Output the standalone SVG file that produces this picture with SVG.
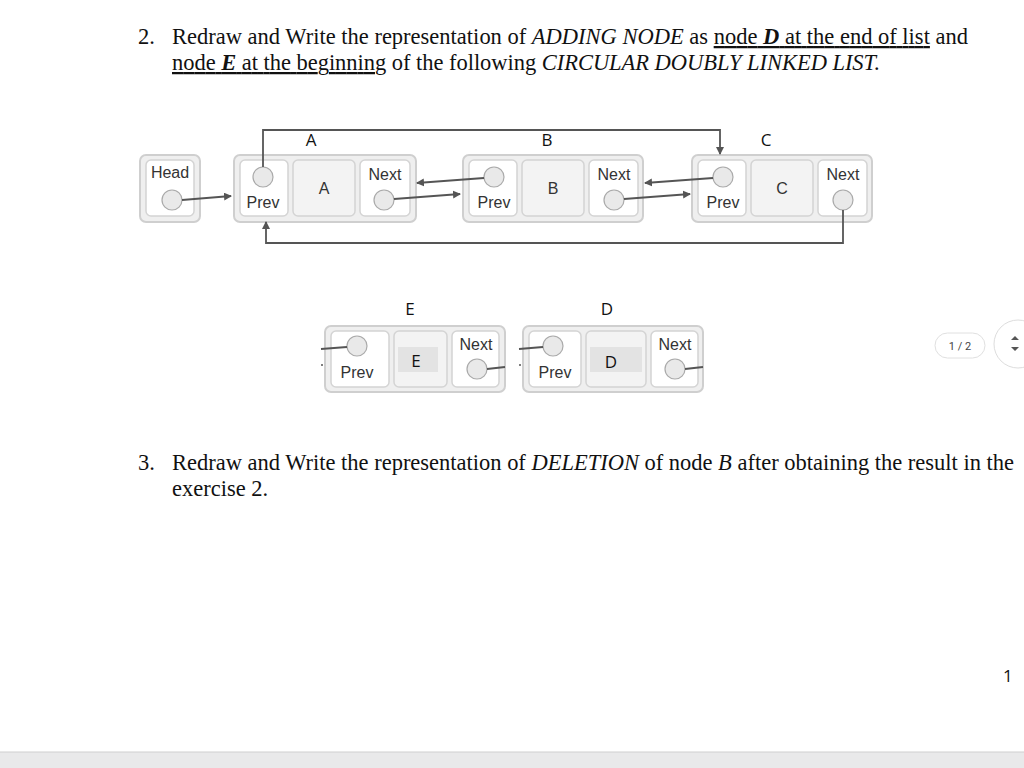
<svg xmlns="http://www.w3.org/2000/svg" width="1024" height="768" viewBox="0 0 1024 768">
<defs>
<marker id="ah" markerWidth="8" markerHeight="8" refX="7" refY="4" orient="auto" markerUnits="userSpaceOnUse"><path d="M0,0 L8,4 L0,8 z" fill="#555"/></marker>
</defs>
<style>
.t{font-family:"Liberation Serif",serif;font-size:22.5px;fill:#111}
.s{font-family:"Liberation Sans",Arial,sans-serif;fill:#333;font-size:16px}
.o{font-family:"Open Sans",sans-serif;fill:#111;font-size:17px}
.outer{fill:#efefef;stroke:#cfcfcf;stroke-width:2}
.cell{fill:#fff;stroke:#d4d4d4;stroke-width:1.5}
.dc{fill:#f3f3f3;stroke:#d4d4d4;stroke-width:1.5}
.c{fill:#e9e9e9;stroke:#aaa;stroke-width:1.2}
.ln{stroke:#555;stroke-width:1.8;fill:none}
</style>
<rect width="1024" height="768" fill="#fff"/>
<rect x="0" y="752" width="1024" height="16" fill="#e9e9ea"/>
<line x1="0" y1="752" x2="1024" y2="752" stroke="#cfcfcf"/>
<text class="t" x="138" y="44">2.</text>
<text class="t" x="172" y="44" textLength="796" lengthAdjust="spacing">Redraw and Write the representation of <tspan font-style="italic">ADDING NODE</tspan> as <tspan text-decoration="underline">node <tspan font-weight="bold" font-style="italic">D</tspan> at the end of list</tspan> and</text>
<text class="t" x="172" y="70" textLength="708" lengthAdjust="spacing"><tspan text-decoration="underline">node <tspan font-weight="bold" font-style="italic">E</tspan> at the beginning</tspan> of the following <tspan font-style="italic">CIRCULAR DOUBLY LINKED LIST.</tspan></text>
<text class="t" x="138" y="470">3.</text>
<text class="t" x="172" y="470" textLength="842" lengthAdjust="spacing">Redraw and Write the representation of <tspan font-style="italic">DELETION</tspan> of node <tspan font-style="italic">B</tspan> after obtaining the result in the</text>
<text class="t" x="172" y="496">exercise 2.</text>
<text class="o" x="1003" y="682">1</text>
<rect x="935" y="333" width="50" height="25" rx="12.5" fill="#fff" stroke="#e0e0e0"/>
<text x="960" y="350" text-anchor="middle" font-family="Roboto,sans-serif" font-size="11" fill="#444">1 / 2</text>
<circle cx="1018" cy="344" r="24" fill="#fff" stroke="#ddd"/>
<path d="M1011,340 l4,-4 l4,4 z M1011,347 l4,4 l4,-4 z" fill="#555"/>

<g id="head"><rect class="outer" x="140" y="155" width="60" height="67" rx="6"/><rect class="cell" x="146" y="160" width="48" height="56" rx="5"/><text class="s" x="170" y="178" text-anchor="middle" font-size="14">Head</text><circle class="c" cx="172" cy="200" r="10"/></g>

<g id="nodeA"><text class="o" x="311" y="146" text-anchor="middle">A</text><rect class="outer" x="234" y="155" width="182" height="67" rx="6"/><rect class="cell" x="240" y="160" width="48" height="56" rx="5"/><rect class="dc" x="293" y="160" width="62" height="56" rx="5"/><rect class="cell" x="360" y="160" width="50" height="56" rx="5"/><circle class="c" cx="263" cy="177" r="10"/><text class="s" x="263" y="208" text-anchor="middle">Prev</text><text class="s" x="324" y="194" text-anchor="middle" font-size="14">A</text><text class="s" x="385" y="180" text-anchor="middle" font-size="17">Next</text><circle class="c" cx="384" cy="200" r="10"/></g>

<g id="nodeB"><text class="o" x="547" y="146" text-anchor="middle">B</text><rect class="outer" x="463" y="155" width="180" height="67" rx="6"/><rect class="cell" x="469" y="160" width="48" height="56" rx="5"/><rect class="dc" x="522" y="160" width="62" height="56" rx="5"/><rect class="cell" x="589" y="160" width="49" height="56" rx="5"/><circle class="c" cx="494" cy="177" r="10"/><text class="s" x="494" y="208" text-anchor="middle">Prev</text><text class="s" x="553" y="194" text-anchor="middle" font-size="14">B</text><text class="s" x="614" y="180" text-anchor="middle" font-size="17">Next</text><circle class="c" cx="614" cy="200" r="10"/></g>

<g id="nodeC"><text class="o" x="766" y="146" text-anchor="middle">C</text><rect class="outer" x="692" y="155" width="180" height="67" rx="6"/><rect class="cell" x="698" y="160" width="48" height="56" rx="5"/><rect class="dc" x="751" y="160" width="62" height="56" rx="5"/><rect class="cell" x="818" y="160" width="49" height="56" rx="5"/><circle class="c" cx="723" cy="177" r="10"/><text class="s" x="723" y="208" text-anchor="middle">Prev</text><text class="s" x="782" y="194" text-anchor="middle" font-size="14">C</text><text class="s" x="843" y="180" text-anchor="middle" font-size="17">Next</text><circle class="c" cx="843" cy="200" r="10"/></g>

<g id="nodeE"><text class="o" x="410" y="315" text-anchor="middle">E</text><rect class="outer" x="325" y="326" width="180" height="66" rx="6"/><rect class="cell" x="331" y="331" width="58" height="56" rx="5"/><rect class="dc" x="394" y="331" width="53" height="56" rx="5"/><rect x="398" y="347" width="40" height="25" fill="#e3e3e3"/><rect class="cell" x="452" y="331" width="47" height="56" rx="5"/><circle class="c" cx="357" cy="346" r="10"/><text class="s" x="357" y="378" text-anchor="middle">Prev</text><text class="o" x="416" y="367" text-anchor="middle">E</text><text class="s" x="476" y="350" text-anchor="middle" font-size="17">Next</text><circle class="c" cx="477" cy="369" r="10"/></g>

<g id="nodeD"><text class="o" x="607" y="315" text-anchor="middle">D</text><rect class="outer" x="523" y="326" width="180" height="66" rx="6"/><rect class="cell" x="529" y="331" width="52" height="56" rx="5"/><rect class="dc" x="586" y="331" width="60" height="56" rx="5"/><rect x="590" y="347" width="52" height="25" fill="#e3e3e3"/><rect class="cell" x="651" y="331" width="47" height="56" rx="5"/><circle class="c" cx="553" cy="346" r="10"/><text class="s" x="555" y="378" text-anchor="middle">Prev</text><text class="o" x="611" y="368" text-anchor="middle">D</text><text class="s" x="675" y="350" text-anchor="middle" font-size="17">Next</text><circle class="c" cx="675" cy="369" r="10"/></g>

<g id="connectors">
<line class="ln" x1="182" y1="200" x2="231" y2="196" marker-end="url(#ah)"/>
<line class="ln" x1="394" y1="199" x2="460" y2="194" marker-end="url(#ah)"/>
<line class="ln" x1="484" y1="178" x2="417" y2="183" marker-end="url(#ah)"/>
<line class="ln" x1="624" y1="199" x2="690" y2="194" marker-end="url(#ah)"/>
<line class="ln" x1="713" y1="178" x2="645" y2="183" marker-end="url(#ah)"/>
<path class="ln" d="M263,167 V130 H720 V154" marker-end="url(#ah)"/>
<path class="ln" d="M843,210 V243 H266 V222" marker-end="url(#ah)"/>
<line class="ln" x1="321" y1="349" x2="347" y2="347"/>
<circle cx="322" cy="365" r="1" fill="#555"/>
<line class="ln" x1="487" y1="369" x2="505" y2="367"/>
<line class="ln" x1="519" y1="349" x2="543" y2="347"/>
<circle cx="520" cy="365" r="1" fill="#555"/>
<line class="ln" x1="685" y1="369" x2="703" y2="367"/>
</g>
</svg>
